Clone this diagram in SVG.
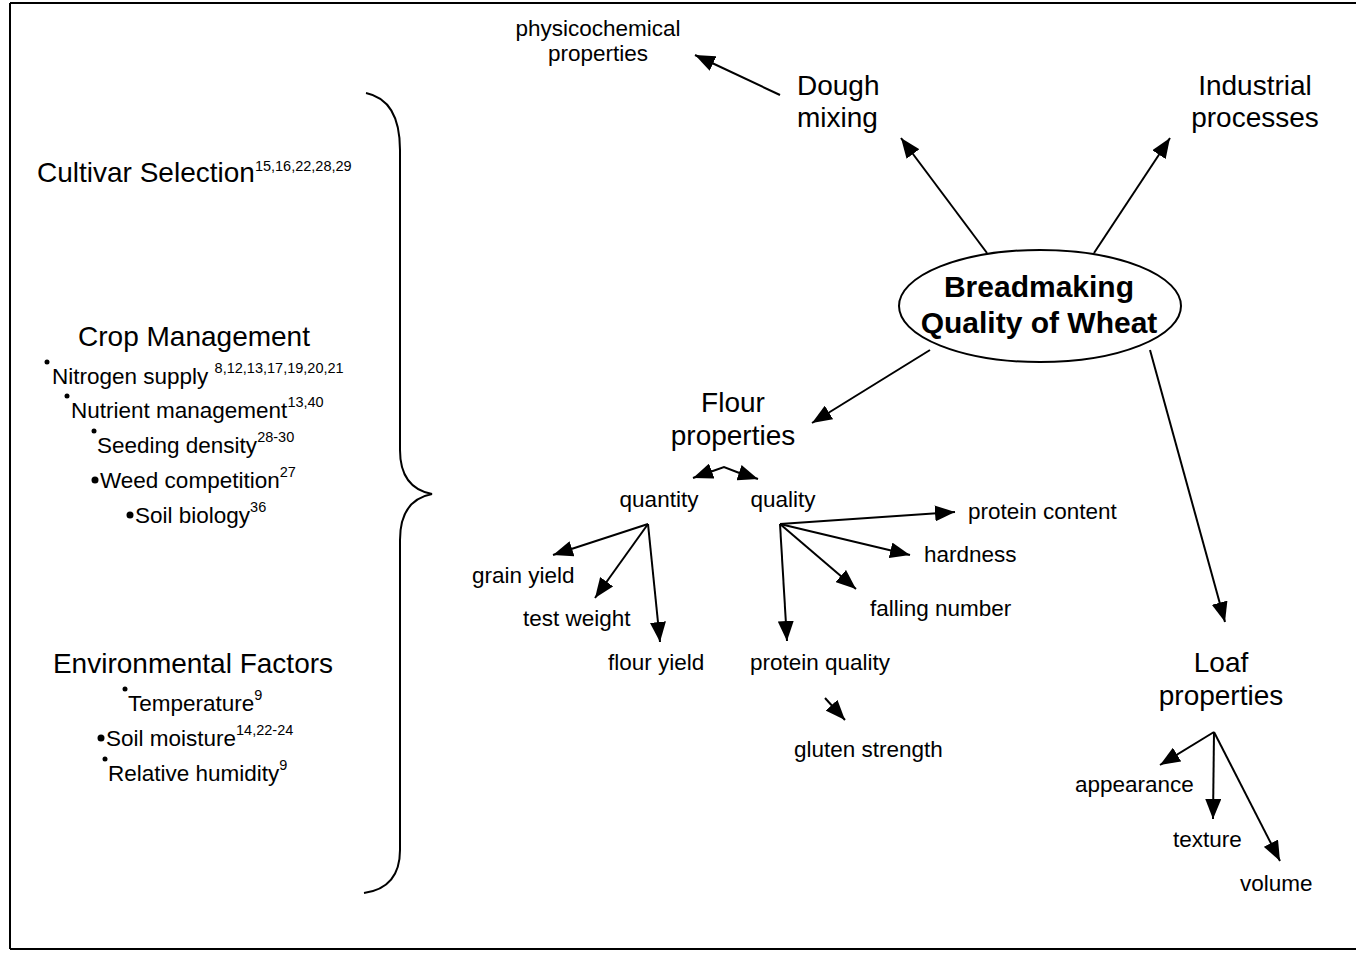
<svg xmlns="http://www.w3.org/2000/svg" width="1356" height="953" viewBox="0 0 1356 953">
<defs>
<marker id="ah" markerWidth="22" markerHeight="16" refX="20" refY="8" orient="auto" markerUnits="userSpaceOnUse">
<path d="M0,0 L20,8 L0,16 Z" fill="#000"/>
</marker>
<style>
text{font-family:"Liberation Sans",Arial,sans-serif;fill:#000}
.l{font-size:28px}
.m{font-size:28px}
.s{font-size:22.5px}
.b{font-size:30px;font-weight:bold}
.sup{font-size:14.5px}
.c{text-anchor:middle}
.ln{stroke:#000;stroke-width:2;fill:none}
.ar{stroke:#000;stroke-width:2;fill:none;marker-end:url(#ah)}
</style>
</defs>
<rect width="1356" height="953" fill="#fff"/>
<path d="M10,3 L1356,3 M10,3 L10,949 M10,949 L1356,949" stroke="#000" stroke-width="2" fill="none"/>

<g id="brace">
<path class="ln" d="M366,93 Q400,100 400,150 L400,450 Q400,488 432,494 Q400,500 400,540 L400,850 Q400,888 364,893"/>
</g>

<g id="factors">
<text class="m" x="37" y="182">Cultivar Selection<tspan class="sup" dy="-11">15,16,22,28,29</tspan></text>
<text class="m c" x="194" y="346">Crop Management</text>
<circle cx="47" cy="362" r="2.5"/>
<text class="s" x="52" y="384">Nitrogen supply <tspan class="sup" dy="-11">8,12,13,17,19,20,21</tspan></text>
<circle cx="67" cy="396" r="2.5"/>
<text class="s" x="71" y="418">Nutrient management<tspan class="sup" dy="-11">13,40</tspan></text>
<circle cx="94" cy="431" r="2.5"/>
<text class="s" x="97" y="453">Seeding density<tspan class="sup" dy="-11">28-30</tspan></text>
<circle cx="95" cy="480" r="3.5"/>
<text class="s" x="100" y="488">Weed competition<tspan class="sup" dy="-11">27</tspan></text>
<circle cx="130" cy="515" r="3.5"/>
<text class="s" x="135" y="523">Soil biology<tspan class="sup" dy="-11">36</tspan></text>
<text class="m c" x="193" y="673">Environmental Factors</text>
<circle cx="125" cy="689" r="2.5"/>
<text class="s" x="128" y="711">Temperature<tspan class="sup" dy="-11">9</tspan></text>
<circle cx="101" cy="738" r="3.5"/>
<text class="s" x="106" y="746">Soil moisture<tspan class="sup" dy="-11">14,22-24</tspan></text>
<circle cx="105" cy="759" r="2.5"/>
<text class="s" x="108" y="781">Relative humidity<tspan class="sup" dy="-11">9</tspan></text>
</g>

<g id="center">
<ellipse cx="1040" cy="306" rx="141" ry="56" fill="#fff" stroke="#000" stroke-width="2"/>
<text class="b c" x="1039" y="297">Breadmaking</text>
<text class="b c" x="1039" y="333">Quality of Wheat</text>
</g>

<g id="physico"><text class="s c" x="598" y="36">physicochemical</text><text class="s c" x="598" y="61">properties</text></g>
<g id="dough"><text class="l" x="797" y="95">Dough</text><text class="l" x="797" y="127">mixing</text></g>
<g id="industrial"><text class="l c" x="1255" y="95">Industrial</text><text class="l c" x="1255" y="127">processes</text></g>
<g id="flour"><text class="l c" x="733" y="412">Flour</text><text class="l c" x="733" y="445">properties</text></g>
<g id="quantity"><text class="s c" x="659" y="507">quantity</text></g>
<g id="quality"><text class="s c" x="783" y="507">quality</text></g>
<g id="protein-content"><text class="s" x="968" y="519">protein content</text></g>
<g id="hardness"><text class="s" x="924" y="562">hardness</text></g>
<g id="falling-number"><text class="s" x="870" y="616">falling number</text></g>
<g id="grain-yield"><text class="s" x="472" y="583">grain yield</text></g>
<g id="test-weight"><text class="s" x="523" y="626">test weight</text></g>
<g id="flour-yield"><text class="s" x="608" y="670">flour yield</text></g>
<g id="protein-quality"><text class="s" x="750" y="670">protein quality</text></g>
<g id="gluten-strength"><text class="s" x="794" y="757">gluten strength</text></g>
<g id="loaf"><text class="l c" x="1221" y="672">Loaf</text><text class="l c" x="1221" y="705">properties</text></g>
<g id="appearance"><text class="s" x="1075" y="792">appearance</text></g>
<g id="texture"><text class="s" x="1173" y="847">texture</text></g>
<g id="volume"><text class="s" x="1240" y="891">volume</text></g>

<g id="connectors">
<line class="ar" x1="780" y1="95" x2="695" y2="55"/>
<line class="ar" x1="987" y1="253" x2="901" y2="138"/>
<line class="ar" x1="1094" y1="253" x2="1170" y2="138"/>
<line class="ar" x1="930" y1="350" x2="812" y2="423"/>
<line class="ar" x1="1150" y1="350" x2="1225" y2="622"/>
<path class="ln" d="M710,472 L724,467 L742,474"/>
<line class="ar" x1="712" y1="471" x2="693" y2="478"/>
<line class="ar" x1="740" y1="473" x2="758" y2="479"/>
<line class="ar" x1="648" y1="524" x2="553" y2="555"/>
<line class="ar" x1="648" y1="524" x2="595" y2="598"/>
<line class="ar" x1="648" y1="524" x2="660" y2="642"/>
<line class="ar" x1="780" y1="524" x2="955" y2="512"/>
<line class="ar" x1="780" y1="524" x2="910" y2="555"/>
<line class="ar" x1="780" y1="524" x2="856" y2="589"/>
<line class="ar" x1="780" y1="524" x2="787" y2="641"/>
<line class="ar" x1="825" y1="698" x2="845" y2="720"/>
<line class="ar" x1="1214" y1="732" x2="1160" y2="765"/>
<line class="ar" x1="1214" y1="732" x2="1213" y2="819"/>
<line class="ar" x1="1214" y1="732" x2="1280" y2="861"/>
</g>
</svg>
